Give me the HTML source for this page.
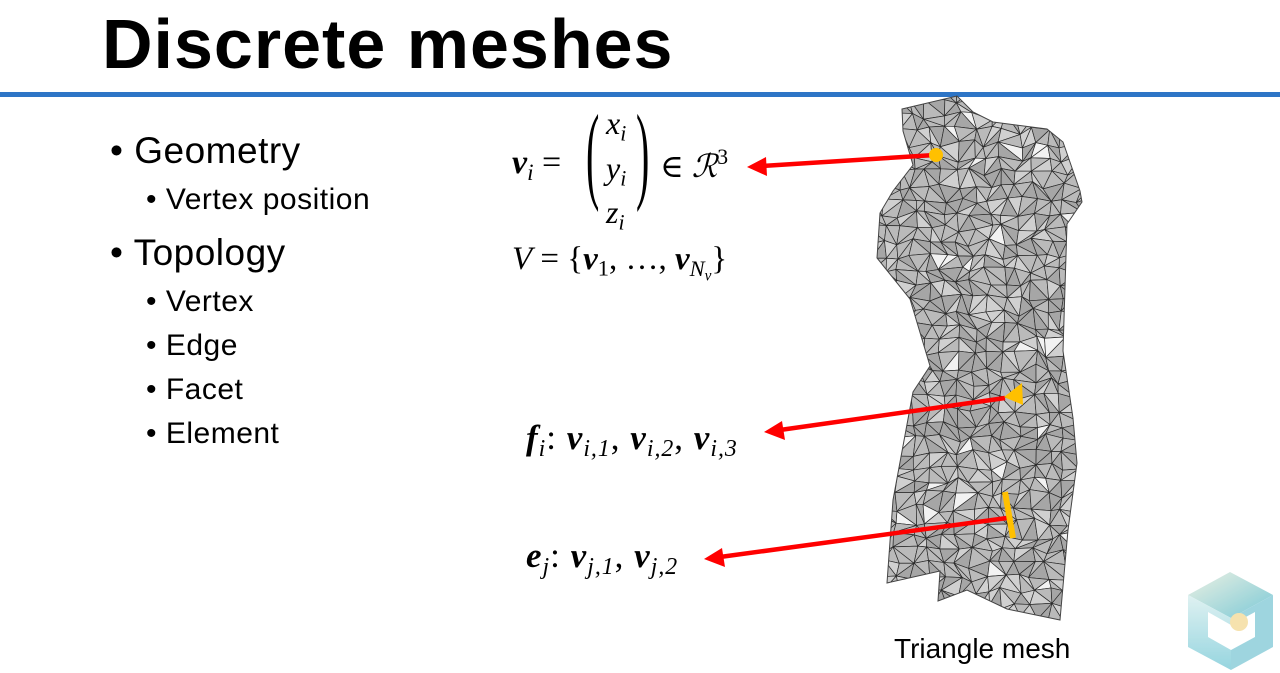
<!DOCTYPE html>
<html><head><meta charset="utf-8"><style>
html,body{margin:0;padding:0;background:#fff;}
body{width:1280px;height:673px;position:relative;overflow:hidden;font-family:"Liberation Sans","DejaVu Sans",sans-serif;}
.t{position:absolute;white-space:nowrap;color:#000;}
.m{font-family:"Liberation Serif","DejaVu Serif",serif;}
.b{font-weight:bold;font-style:italic;}
.i{font-style:italic;}
sub{font-size:0.68em;vertical-align:-0.3em;}
sup{font-size:0.68em;vertical-align:0.6em;}
.bl{font-size:37px;letter-spacing:0.5px;}
.sb{font-size:30px;letter-spacing:0.5px;}
</style></head><body>
<div class="t" style="left:102px;top:4px;font-family:'Liberation Sans',sans-serif;font-weight:bold;font-size:70px;letter-spacing:1px;">Discrete meshes</div>
<div style="position:absolute;left:0;top:92px;width:1280px;height:5px;background:#2e75c6;"></div>

<div class="t bl" style="left:110px;top:130px;">• Geometry</div>
<div class="t sb" style="left:146px;top:183px;">• Vertex position</div>
<div class="t bl" style="left:110px;top:232px;">• Topology</div>
<div class="t sb" style="left:146px;top:285px;">• Vertex</div>
<div class="t sb" style="left:146px;top:329px;">• Edge</div>
<div class="t sb" style="left:146px;top:373px;">• Facet</div>
<div class="t sb" style="left:146px;top:417px;">• Element</div>

<div class="t m" style="left:512px;top:144px;font-size:34px;"><span class="b">v</span><sub class="i">i</sub> =</div>
<div class="t m" style="left:586px;top:100px;font-size:40px;transform:scaleY(2.7);transform-origin:left top;line-height:1;">(</div>
<div class="t m i" style="left:606px;top:106px;font-size:32px;line-height:34px;">x<sub>i</sub><br>y<sub>i</sub><br>z<sub>i</sub></div>
<div class="t m" style="left:636px;top:100px;font-size:40px;transform:scaleY(2.7);transform-origin:left top;line-height:1;">)</div>
<div class="t m" style="left:660px;top:145px;font-size:32px;">∈ <span class="i">ℛ</span><sup>3</sup></div>
<div class="t m" style="left:512px;top:241px;font-size:33px;"><span class="i">V</span> = {<span class="b">v</span><sub>1</sub>, …, <span class="b">v</span><sub><span class="i">N<sub>v</sub></span></sub>}</div>
<div class="t m" style="left:526px;top:418px;font-size:35px;letter-spacing:1px;"><span class="b">f</span><sub class="i">i</sub>: <span class="b">v</span><sub class="i">i,1</sub>, <span class="b">v</span><sub class="i">i,2</sub>, <span class="b">v</span><sub class="i">i,3</sub></div>
<div class="t m" style="left:526px;top:536px;font-size:35px;letter-spacing:1px;"><span class="b">e</span><sub class="i">j</sub>: <span class="b">v</span><sub class="i">j,1</sub>, <span class="b">v</span><sub class="i">j,2</sub></div>

<svg id="sv" width="1280" height="673" style="position:absolute;left:0;top:0;">
<defs>
<clipPath id="cp"><polygon points="902,109 957,96 973,112 993,122 1047,129 1063,142 1080,191 1082,202 1067,224 1063,351 1073,418 1077,463 1068,530 1060,620 1007,609 967,590 938,601 940,571 887,583 893,500 913,392 930,366 910,299 877,258 880,213 893,191 913,165 903,131"/></clipPath>
<linearGradient id="lg1" x1="0" y1="0" x2="1" y2="1"><stop offset="0" stop-color="#e8eedd"/><stop offset="1" stop-color="#5bbccc"/></linearGradient>
<linearGradient id="lg2" x1="0" y1="0" x2="0" y2="1"><stop offset="0" stop-color="#d8efef"/><stop offset="1" stop-color="#7ccbd8"/></linearGradient>
</defs>
<polygon points="902,109 957,96 973,112 993,122 1047,129 1063,142 1080,191 1082,202 1067,224 1063,351 1073,418 1077,463 1068,530 1060,620 1007,609 967,590 938,601 940,571 887,583 893,500 913,392 930,366 910,299 877,258 880,213 893,191 913,165 903,131" fill="#b4b4b4"/>
<g id="mesh" clip-path="url(#cp)"></g>
<polygon points="902,109 957,96 973,112 993,122 1047,129 1063,142 1080,191 1082,202 1067,224 1063,351 1073,418 1077,463 1068,530 1060,620 1007,609 967,590 938,601 940,571 887,583 893,500 913,392 930,366 910,299 877,258 880,213 893,191 913,165 903,131" fill="none" stroke="#444" stroke-width="1"/>
<g stroke="#f00" stroke-width="4.5" fill="#f00">
<line x1="935" y1="155" x2="762" y2="166"/>
<polygon points="747,167 766,157 767,176" stroke="none"/>
<line x1="1005" y1="398" x2="780" y2="430"/>
<polygon points="764,432 782,421 785,440" stroke="none"/>
<line x1="1007" y1="518" x2="720" y2="557"/>
<polygon points="704,559 722,548 725,567" stroke="none"/>
</g>
<circle cx="936" cy="155" r="7" fill="#ffc000"/>
<polygon points="1004,397 1022,383 1023,405" fill="#ffc000"/>
<line x1="1005" y1="492" x2="1013" y2="538" stroke="#ffc000" stroke-width="6"/>
<g opacity="0.8">
<polygon points="1188,595 1230,572 1273,595 1231,618" fill="url(#lg1)"/>
<polygon points="1188,595 1231,618 1231,670 1188,647" fill="url(#lg2)"/>
<polygon points="1231,618 1273,595 1273,647 1231,670" fill="#86cbd8"/>
<polygon points="1208,612 1231,625 1231,650 1208,637" fill="#fff"/>
<polygon points="1231,625 1255,612 1255,637 1231,650" fill="#fff"/>
<circle cx="1239" cy="622" r="9" fill="#f5dc9a"/>
</g>
</svg>
<div class="t" style="left:894px;top:633px;font-size:28px;">Triangle mesh</div>
<script>
(function(){
var g=document.getElementById('mesh');
var s=1234567;function r(){s=(s*16807)%2147483647;return s/2147483647;}
var dx=15,dy=14,x0=868,y0=88,nx=15,ny=38,P=[];
for(var j=0;j<=ny;j++){P[j]=[];for(var i=0;i<=nx;i++){P[j][i]=[x0+i*dx+(r()-0.5)*10,y0+j*dy+(r()-0.5)*9];}}
var out='';
function tri(a,b,c){var v=r();var col=v<0.04?'#f2f2f2':(v<0.2?'#d0d0d0':(v<0.65?'#bababa':'#a6a6a6'));
out+='<polygon points="'+a+' '+b+' '+c+'" fill="'+col+'" stroke="#2a2a2a" stroke-width="0.7"/>';}
for(var j=0;j<ny;j++)for(var i=0;i<nx;i++){var a=P[j][i],b=P[j][i+1],c=P[j+1][i+1],d=P[j+1][i];
if(r()<0.5){tri(a,b,c);tri(a,c,d);}else{tri(a,b,d);tri(b,c,d);}}
g.innerHTML=out;
})();
</script>
</body></html>
